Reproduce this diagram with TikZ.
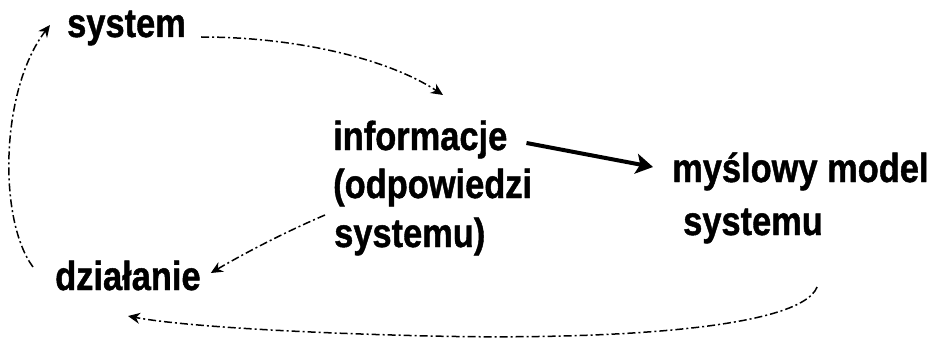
\documentclass[tikz,border=0pt]{standalone}
\usepackage{fontspec}
\setmainfont{Liberation Sans}[BoldFeatures={FakeBold=1.2}]
\usetikzlibrary{arrows.meta,calc}
\newcommand{\lbltext}[1]{\scalebox{0.85}[1]{#1}}
\begin{document}
\begin{tikzpicture}[x=1pt,y=-1pt,
  lbl/.style={font=\bfseries\fontsize{40.5}{46}\selectfont, inner sep=0pt, anchor=base west},
  thin link/.style={line width=1.5pt, dash pattern=on 8pt off 3pt on 2pt off 3pt, -{Stealth[length=12pt,width=11pt]}},
  thick link/.style={line width=4pt, -{Stealth[length=17pt,width=20pt,inset=4pt]}}]
\useasboundingbox (0,0) rectangle (934,342);
\node[lbl] (sys) at (67,37) {\lbltext{system}};
\node[lbl] (info) at (333,150) {\lbltext{informacje}};
\node[lbl] (odp) at (333,198) {\lbltext{(odpowiedzi}};
\node[lbl] (sysu) at (334,247) {\lbltext{systemu)}};
\node[lbl] (mod) at (672,182) {\lbltext{myślowy model}};
\node[lbl] (mods) at (683,235) {\lbltext{systemu}};
\node[lbl] (dz) at (55,290) {\lbltext{działanie}};
% system -> informacje
\draw[thin link] ($(sys.base east)+(15,0)$) .. controls (300,37) and (390,60) .. ($(info.base west)+(110,-55)$);
% informacje -> model
\draw[thick link] ($(info.base east)+(19,-7)$) -- ($(mod.base west)+(-19,-15)$);
% odpowiedzi -> dzialanie
\draw[thin link] ($(odp.base west)+(-8,17)$) .. controls (290,230) and (250,250) .. ($(dz.base east)+(10,-17)$);
% model -> dzialanie
\draw[thin link] ($(mods.base east)+(-6,52)$) .. controls (800,330) and (600,340) .. (430,336) .. controls (300,333) and (180,326) .. ($(dz.base west)+(73,26)$);
% dzialanie -> system
\draw[thin link] ($(dz.base west)+(-22,-23)$) .. controls (-2,220) and (0,90) .. ($(sys.base west)+(-17,-12)$);
\end{tikzpicture}
\end{document}
